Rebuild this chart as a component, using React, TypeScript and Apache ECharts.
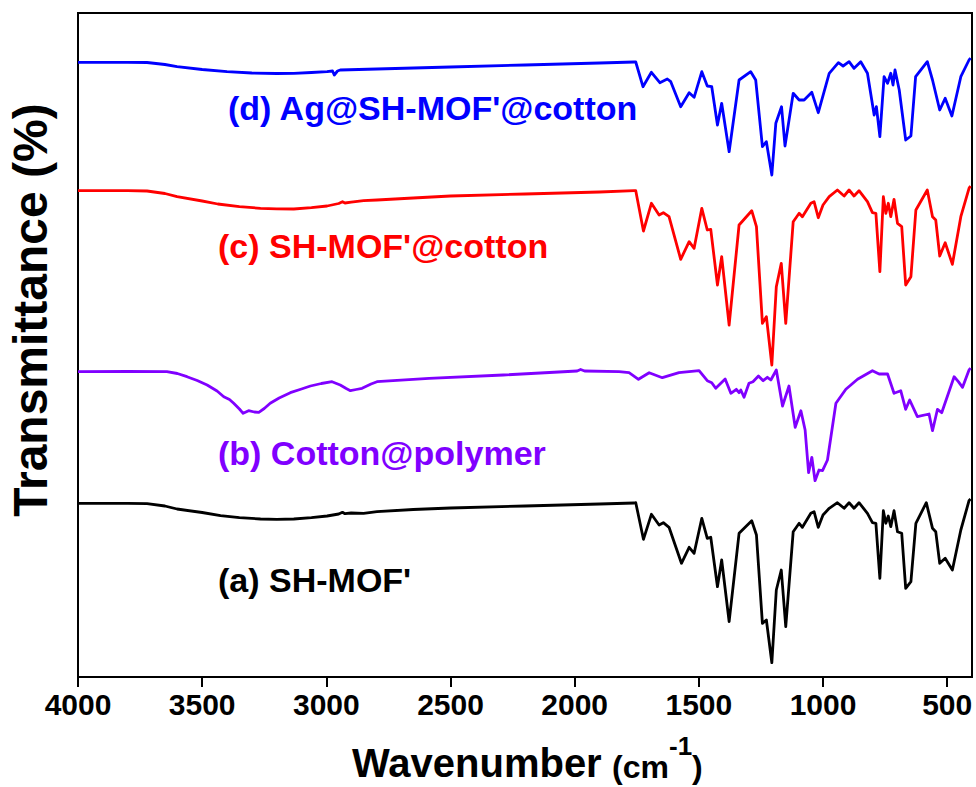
import React, { useEffect, useRef } from "react";
import * as echarts from "echarts";

// x: wavenumber (cm-1), y: offset transmittance (arbitrary stacked units)
const xTicks = [4000, 3500, 3000, 2500, 2000, 1500, 1000, 500];

const labels = ["(a) SH-MOF'", "(b) Cotton@polymer", "(c) SH-MOF'@cotton", "(d) Ag@SH-MOF'@cotton"];
const colors = ["#000000", "#8000FF", "#FF0000", "#0000FF"];

const seriesA: [number, number][] = [
  [4000, 173.7], [3800, 173.7], [3722, 173.3], [3650, 171], [3601, 168], [3500, 164.5], [3426, 161.3],
  [3350, 159.3], [3265, 158], [3200, 157.7], [3131, 158], [3060, 159.3], [2997, 161], [2950, 163],
  [2935, 164.7], [2925, 163.3], [2900, 164], [2850, 163.7], [2796, 165.3], [2650, 167.5], [2500, 169],
  [2200, 171], [1900, 173], [1760, 174],
  [1754, 174.3], [1723, 137.7], [1691, 162.7], [1660, 152], [1643, 154.3], [1620, 149.7], [1570, 113.7],
  [1539, 129.7], [1519, 123.7], [1488, 158.7], [1466, 138.7], [1452, 139.7], [1425, 90.3], [1408, 117],
  [1378, 55.3], [1338, 143.7], [1287, 156.3], [1268, 142], [1244, 53.7], [1228, 57], [1206, 14.3],
  [1188, 87], [1168, 107], [1150, 50.3], [1120, 145.3], [1096, 153.7], [1083, 149.7], [1049, 163.7],
  [1036, 165.3], [1019, 149.7], [1000, 162], [975, 168.7], [942, 174.3], [915, 168.7], [895, 174.3],
  [875, 168.7], [855, 174.3], [821, 163.7], [801, 154.3], [787, 153.7], [771, 98.7], [757, 166.3],
  [747, 153.7], [737, 161], [727, 150.3], [714, 166.3], [700, 145.3], [683, 143.7], [667, 88.7],
  [646, 95.3], [626, 153.7], [584, 174.3], [559, 148.7], [546, 145.3], [530, 113.7], [508, 118.7],
  [479, 107], [445, 147], [412, 176.3], [406, 178],
];

const seriesB: [number, number][] = [
  [4000, 305.3], [3800, 305.5], [3642, 305.3], [3600, 303.5], [3561, 300.3], [3520, 296.5], [3480, 292],
  [3440, 286], [3413, 280.3], [3390, 277.5], [3373, 273.7], [3350, 268], [3335, 263.7], [3313, 266.3],
  [3290, 265], [3272, 264.7], [3250, 268.5], [3226, 273.7], [3190, 279], [3145, 284.3], [3100, 288],
  [3064, 291], [3020, 293.5], [2977, 295.3], [2944, 292], [2920, 288.5], [2903, 286.3], [2880, 287.5],
  [2856, 288.7], [2820, 293], [2796, 295.3], [2586, 298.7], [2288, 302], [1990, 306], [1976, 307.5],
  [1960, 306], [1821, 305.3], [1781, 304.3], [1743, 297.7], [1700, 304.3], [1647, 299.3], [1580, 304.3],
  [1499, 306.3], [1466, 296.3], [1448, 294.3], [1432, 288.7], [1394, 298], [1371, 283.7], [1349, 287.7],
  [1338, 284.3], [1331, 287], [1318, 279.7], [1298, 293.7], [1282, 295.3], [1260, 301], [1241, 296.3],
  [1224, 299.7], [1210, 297], [1188, 307], [1163, 271], [1137, 291], [1112, 249.7], [1089, 266.3],
  [1072, 247], [1058, 204.3], [1045, 219.7], [1032, 196.3], [1016, 207], [1002, 206.3], [982, 217],
  [948, 273.7], [908, 287.7], [861, 297.7], [801, 306.3], [774, 303], [740, 303], [714, 283.7],
  [687, 286.3], [667, 267.7], [651, 277], [620, 260.3], [573, 263], [559, 246.3], [539, 267.7],
  [522, 264.3], [472, 300.3], [455, 295.3], [438, 289.7], [412, 307], [406, 309],
];

const seriesC: [number, number][] = [
  [4000, 486.3], [3800, 486.3], [3722, 486], [3650, 483.5], [3601, 480.3], [3500, 476], [3437, 473],
  [3350, 470.3], [3265, 468.7], [3200, 468.2], [3131, 468], [3060, 469.3], [2997, 471], [2950, 473.5],
  [2935, 475.3], [2925, 474], [2900, 474.8], [2850, 476.3], [2796, 477], [2650, 479], [2500, 481],
  [2200, 483], [1900, 485], [1760, 486.3],
  [1754, 486.3], [1723, 446], [1691, 473.7], [1660, 462], [1643, 464.3], [1620, 460.3], [1573, 417.7],
  [1539, 435.3], [1519, 428.7], [1488, 468.7], [1466, 447], [1452, 447.7], [1425, 392], [1408, 420.3],
  [1378, 352], [1338, 452], [1287, 466.3], [1268, 450.3], [1244, 353.7], [1228, 360.3], [1206, 312],
  [1188, 390.3], [1168, 413.7], [1150, 353.7], [1120, 455.3], [1096, 463.7], [1083, 460.3], [1049, 473.7],
  [1036, 475.3], [1019, 459.3], [1000, 472], [975, 480.3], [942, 487], [915, 481], [895, 487],
  [875, 481], [855, 486.3], [821, 475.3], [801, 464.3], [787, 463.7], [771, 405.3], [757, 480.3],
  [747, 463.7], [737, 473.7], [727, 460.3], [714, 477.7], [700, 453.7], [683, 450.3], [667, 392],
  [646, 400.3], [626, 467], [580, 487], [559, 460.3], [546, 457], [530, 421], [508, 434.3],
  [479, 412.7], [445, 460.3], [412, 488.7], [406, 491],
];

const seriesD: [number, number][] = [
  [4000, 614.7], [3800, 614.7], [3722, 614.5], [3650, 612.5], [3601, 610.3], [3500, 607.5], [3400, 605.3],
  [3300, 604], [3200, 603.5], [3131, 603.7], [3060, 604.5], [2997, 605.3], [2975, 606], [2968, 602],
  [2955, 606], [2944, 607], [2796, 608], [2500, 610], [2200, 612], [1900, 614],
  [1760, 615], [1754, 615], [1725, 590.3], [1691, 604.7], [1657, 594.3], [1627, 598], [1613, 595.3],
  [1573, 570.3], [1539, 584.3], [1519, 579.7], [1488, 605.3], [1466, 591], [1448, 590.3], [1425, 552],
  [1408, 573.7], [1378, 525.3], [1338, 597], [1291, 605.3], [1271, 597], [1244, 530.3], [1228, 535.3],
  [1206, 502], [1190, 553.7], [1167, 570.3], [1153, 531], [1120, 583.7], [1096, 577], [1076, 577],
  [1045, 584.7], [1019, 564.3], [975, 603.7], [938, 614.3], [919, 611], [895, 615.3], [875, 608.7],
  [848, 615.3], [821, 603.7], [794, 562], [785, 570.3], [771, 540.3], [754, 600.3], [740, 593.7],
  [727, 603.7], [718, 592], [710, 607], [693, 587], [667, 537], [646, 541], [627, 600.3], [580, 615.3],
  [559, 597], [530, 567], [508, 578.7], [481, 561], [445, 600.3], [412, 617], [406, 619],
];

const seriesData = [seriesA, seriesB, seriesC, seriesD];
const labelPos = [
  { x: 218, y: 580 },
  { x: 218, y: 453 },
  { x: 218, y: 246 },
  { x: 228, y: 108 },
];

const FONT = "'Liberation Sans', Arial, Helvetica, sans-serif";

export default function App() {
  const ref = useRef<HTMLDivElement>(null);
  useEffect(() => {
    if (!ref.current) return;
    const chart = echarts.init(ref.current, null, { renderer: "svg" });
    chart.setOption({
      animation: false,
      backgroundColor: "#ffffff",
      grid: {
        left: 78,
        right: 4,
        top: 13,
        bottom: 110,
        show: true,
        borderColor: "#000",
        borderWidth: 2,
        containLabel: false,
      },
      xAxis: {
        type: "value",
        inverse: true,
        min: 400,
        max: 4000,
        axisLine: { show: true, lineStyle: { color: "#000", width: 2 } },
        axisTick: {
          show: true,
          inside: false,
          length: 10,
          customValues: xTicks,
          lineStyle: { color: "#000", width: 2 },
        },
        axisLabel: {
          show: true,
          customValues: xTicks,
          formatter: (v: number) => String(v),
          margin: 12,
          color: "#000",
          fontFamily: FONT,
          fontWeight: "bold",
          fontSize: 30,
        },
        splitLine: { show: false },
      },
      yAxis: {
        type: "value",
        min: 0,
        max: 664,
        axisLine: { show: true, lineStyle: { color: "#000", width: 2 } },
        axisTick: { show: false },
        axisLabel: { show: false },
        splitLine: { show: false },
      },
      series: seriesData.map((d, i) => ({
        type: "line",
        name: labels[i],
        data: d,
        showSymbol: false,
        symbol: "none",
        smooth: false,
        lineStyle: { color: colors[i], width: 2.8, join: "round" },
        itemStyle: { color: colors[i] },
        z: 3,
      })),
      graphic: [
        ...labels.map((t, i) => ({
          type: "text",
          x: labelPos[i].x,
          y: labelPos[i].y,
          style: {
            text: t,
            fill: colors[i],
            font: `bold 34px ${FONT}`,
            textAlign: "left",
            textVerticalAlign: "middle",
          },
        })),
        {
          type: "text",
          x: 30,
          y: 310,
          rotation: Math.PI / 2,
          style: {
            text: "Transmittance (%)",
            fill: "#000",
            font: `bold 48px ${FONT}`,
            textAlign: "center",
            textVerticalAlign: "middle",
          },
        },
        {
          type: "text",
          x: 352,
          y: 763,
          style: {
            text: "Wavenumber",
            fill: "#000",
            font: `bold 40px ${FONT}`,
            textAlign: "left",
            textVerticalAlign: "middle",
          },
        },
        {
          type: "text",
          x: 612,
          y: 767,
          style: {
            text: "(cm",
            fill: "#000",
            font: `bold 32px ${FONT}`,
            textAlign: "left",
            textVerticalAlign: "middle",
          },
        },
        {
          type: "text",
          x: 669,
          y: 746,
          style: {
            text: "-1",
            fill: "#000",
            font: `bold 26px ${FONT}`,
            textAlign: "left",
            textVerticalAlign: "middle",
          },
        },
        {
          type: "text",
          x: 692,
          y: 767,
          style: {
            text: ")",
            fill: "#000",
            font: `bold 32px ${FONT}`,
            textAlign: "left",
            textVerticalAlign: "middle",
          },
        },
      ],
    });
    return () => chart.dispose();
  }, []);
  return (
    <div
      ref={ref}
      style={{ position: "fixed", left: 0, top: 0, width: 976, height: 787, background: "#fff" }}
    />
  );
}
